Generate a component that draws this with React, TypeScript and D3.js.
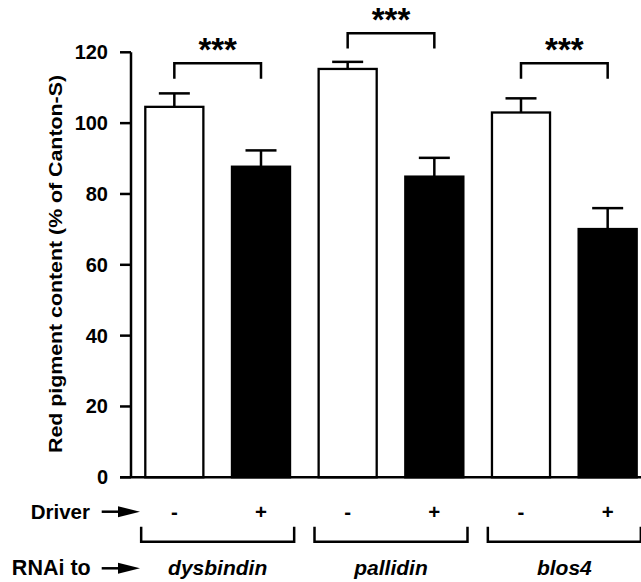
import React from 'react'
import * as d3 from 'd3'

// values (% of Canton-S)
const groups = ['dysbindin', 'pallidin', 'blos4']
const drivers = ['-', '+']
const means = [104.6, 87.7, 115.3, 84.9, 103.0, 70.1]
const sems = [3.8, 4.6, 2.0, 5.3, 4.0, 5.9]
const bracketTop = [116.9, 125.4, 116.9]
const bracketLeg = [112.5, 121.1, 112.5]
const yTicks = [0, 20, 40, 60, 80, 100, 120]

const FONT = '"Liberation Sans", Arial, Helvetica, sans-serif'

const Arrow = ({ x1, x2, y }: { x1: number; x2: number; y: number }) => (
  <g>
    <line x1={x1} x2={x2 - 18} y1={y} y2={y} stroke="#000" strokeWidth={2.5} />
    <path d={`M${x2 - 22},${y - 5.5} L${x2},${y} L${x2 - 22},${y + 5.5} Z`} fill="#000" />
  </g>
)

const App = () => {
  const width = 641, height = 582
  const bars = groups.flatMap((g, gi) => drivers.map((d, di) => ({
    key: g + d, group: g, driver: d, idx: gi * 2 + di,
    value: means[gi * 2 + di], sem: sems[gi * 2 + di]
  })))

  const x = d3.scaleBand<string>()
    .domain(bars.map(b => b.key))
    .range([131, 651])
    .paddingInner(0.33)
    .paddingOuter(0.165)
  const y = d3.scaleLinear().domain([0, 120]).range([477.3, 52.3])
  const bw = x.bandwidth()
  const cx = (k: string) => (x(k) as number) + bw / 2

  const driverY = 511.7
  const rnaiY = 575

  return (
    <svg width={width} height={height} style={{ position: 'absolute', left: 0, top: 0, background: '#fff' }}
      fontFamily={FONT} fontWeight="bold">
      {/* bars */}
      {bars.map(b => (
        <g key={b.key}>
          <line x1={cx(b.key)} x2={cx(b.key)} y1={y(b.value)} y2={y(b.value + b.sem)} stroke="#000" strokeWidth={2.5} />
          <line x1={cx(b.key) - 15.5} x2={cx(b.key) + 15.5} y1={y(b.value + b.sem)} y2={y(b.value + b.sem)} stroke="#000" strokeWidth={2.5} />
          <rect x={x(b.key)} y={y(b.value)} width={bw} height={y(0) - y(b.value)}
            fill={b.driver === '+' ? '#000' : '#fff'} stroke="#000" strokeWidth={2.3} />
        </g>
      ))}

      {/* axes */}
      <line x1={120} x2={width} y1={y(0)} y2={y(0)} stroke="#000" strokeWidth={2.5} />
      <line x1={131} x2={131} y1={y(120)} y2={y(0)} stroke="#000" strokeWidth={2.5} />
      {yTicks.map(t => (
        <g key={t}>
          <line x1={120} x2={131} y1={y(t)} y2={y(t)} stroke="#000" strokeWidth={2.5} />
          <text x={108} y={y(t) + 7} textAnchor="end" fontSize={20}>{t}</text>
        </g>
      ))}
      <text transform={`translate(62,264) rotate(-90)`} textAnchor="middle" fontSize={18.5}
        textLength={378} lengthAdjust="spacingAndGlyphs">Red pigment content (% of Canton-S)</text>

      {/* significance brackets */}
      {groups.map((g, gi) => {
        const a = cx(g + drivers[0]), c = cx(g + drivers[1])
        const top = y(bracketTop[gi]), leg = y(bracketLeg[gi])
        return (
          <g key={g}>
            <path d={`M${a},${leg} V${top} H${c} V${leg}`} fill="none" stroke="#000" strokeWidth={2.5} />
            <text x={(a + c) / 2} y={top - 2} textAnchor="middle" fontSize={33}>***</text>
          </g>
        )
      })}

      {/* driver row */}
      <text x={90} y={driverY + 7.3} textAnchor="end" fontSize={20.5}>Driver</text>
      <Arrow x1={101.7} x2={140} y={driverY} />
      {bars.map(b => (
        <text key={b.key} x={cx(b.key)} y={driverY + 7.3} textAnchor="middle" fontSize={20.5}>{b.driver}</text>
      ))}

      {/* group brackets + RNAi row */}
      <text x={90.7} y={rnaiY} textAnchor="end" fontSize={21.5}>RNAi to</text>
      <Arrow x1={101.7} x2={140} y={568.3} />
      {groups.map(g => {
        const mid = (cx(g + drivers[0]) + cx(g + drivers[1])) / 2
        return (
          <g key={g}>
            <path d={`M${mid - 76.5},526.7 V541.7 H${mid + 76.5} V526.7`} fill="none" stroke="#000" strokeWidth={2.5} />
            <text x={mid} y={rnaiY} textAnchor="middle" fontSize={21} fontStyle="italic">{g}</text>
          </g>
        )
      })}
    </svg>
  )
}

export default App
